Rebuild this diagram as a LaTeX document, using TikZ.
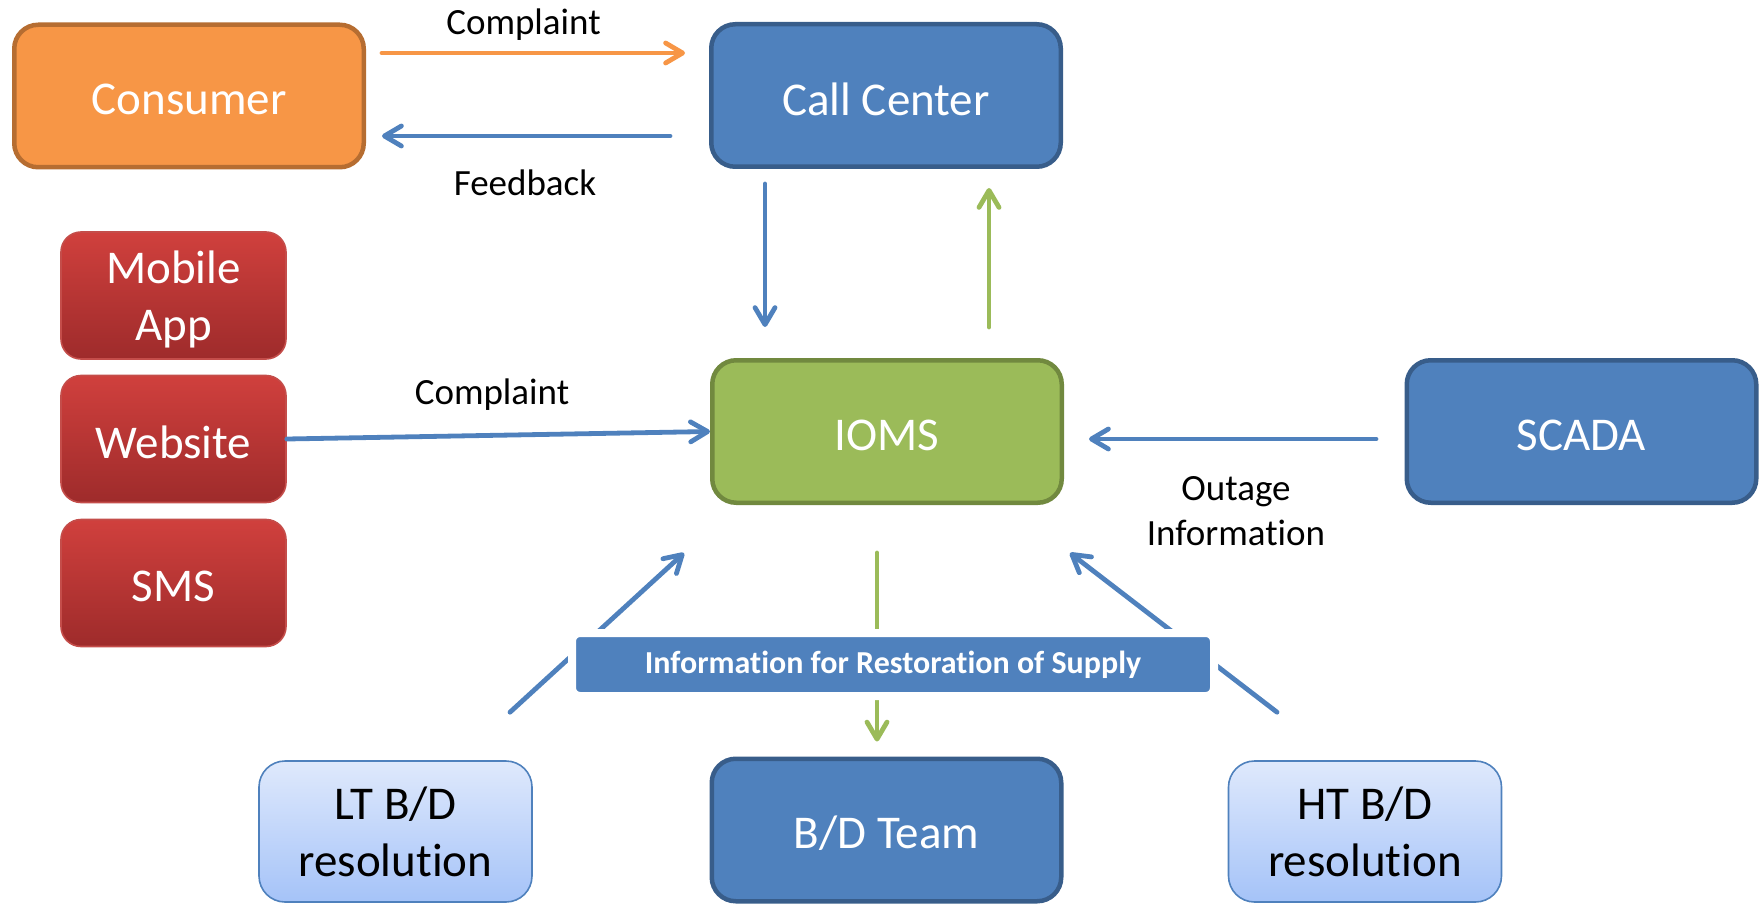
\documentclass[tikz,border=0pt]{standalone}
\usepackage{fontspec}
\setmainfont{Carlito}[Ligatures=NoCommon]
\usetikzlibrary{arrows.meta,calc}
\definecolor{cblue}{HTML}{4F81BD}
\definecolor{cbluedark}{HTML}{385D8A}
\definecolor{cgreen}{HTML}{9BBB59}
\definecolor{cgreendark}{HTML}{71893F}
\definecolor{corange}{HTML}{F79646}
\definecolor{corangedark}{HTML}{B66D31}
\definecolor{credtop}{HTML}{D0403D}
\definecolor{credbot}{HTML}{9E2B2B}
\definecolor{credline}{HTML}{C44D4A}
\definecolor{cltop}{HTML}{DFE9FC}
\definecolor{clbot}{HTML}{A5C3F8}
\newcommand{\lowtxt}[1]{\raisebox{-1.75pt}[\height][\depth]{#1}}
\begin{document}
\begin{tikzpicture}[x=0.5pt, y=-0.5pt, line join=round, line cap=round,
  box/.style={rectangle, rounded corners=12pt, line width=2.25pt, minimum width=174.75pt, minimum height=71.25pt, inner sep=0pt, text=white, align=center, font=\fontsize{23.5}{28.5}\selectfont},
  redbox/.style={box, rounded corners=10pt, line width=0.8pt, minimum width=112.5pt, minimum height=63.5pt, top color=credtop, bottom color=credbot, draw=credline},
  ltbox/.style={box, rounded corners=13pt, line width=0.8pt, minimum width=136.5pt, minimum height=70.5pt, top color=cltop, bottom color=clbot, draw=cblue, text=black},
  banner/.style={rectangle, rounded corners=4pt, fill=cblue, draw=white, line width=4pt, minimum width=321pt, minimum height=31.5pt, inner sep=0pt, text=white, font=\bfseries\fontsize{16}{19}\selectfont},
  lbl/.style={inner sep=0pt, align=center, font=\fontsize{18.5}{22.5}\selectfont},
  arr/.style={line width=2.4pt, -{Straight Barb[length=8.5pt,width=10pt,round]}}]
\useasboundingbox (0,0) rectangle (1762,904);
\node[box, fill=corange, draw=corangedark] (consumer) at (189,96) {\lowtxt{Consumer}};
\node[box, fill=cblue, draw=cbluedark] (callcenter) at (886,95.5) {\lowtxt{Call Center}};
\node[redbox] (mobile) at (173.5,295.5) {\lowtxt{Mobile}\\\lowtxt{App}};
\node[redbox] (website) at (173.5,439) {\lowtxt{Website}};
\node[redbox] (sms) at (173.5,583) {\lowtxt{SMS}};
\node[box, fill=cgreen, draw=cgreendark] (ioms) at (887,431.5) {\lowtxt{IOMS}};
\node[box, fill=cblue, draw=cbluedark] (scada) at (1581.5,431.5) {\lowtxt{SCADA}};
\node[box, fill=cblue, draw=cbluedark] (bdteam) at (886.5,830) {\lowtxt{B/D Team}};
\node[ltbox] (ltbd) at (395.5,831.5) {LT B/D\\resolution};
\node[ltbox] (htbd) at (1365,831.5) {HT B/D\\resolution};

\draw[arr, corange] ($(consumer.east)+(16,-43)$) -- ($(callcenter.west)+(-24,-42.5)$);
\draw[arr, cblue] ($(callcenter.west)+(-39,40.5)$) -- ($(consumer.east)+(16,40)$);
\draw[arr, cblue] (website.east) -- (ioms.west);
\draw[arr, cblue] ($(callcenter.south)+(-121,15)$) -- ($(ioms.north)+(-122,-31)$);
\draw[arr, cgreen] ($(ioms.north)+(102,-31)$) -- ($(callcenter.south)+(103,19)$);
\draw[arr, cblue] ($(scada.west)+(-28.5,7.5)$) -- ($(ioms.east)+(25,7.5)$);
\draw[arr, cblue] ($(ltbd.north)+(114.5,-48)$) -- ($(ioms.south)+(-203,48)$);
\draw[arr, cblue] ($(htbd.north)+(-88,-48)$) -- ($(ioms.south)+(183,48)$);
\draw[arr, cgreen] ($(ioms.south)+(-10,48)$) -- ($(bdteam.north)+(-9.5,-15)$);
\node[banner] (restore) at (893,664.5) {Information for Restoration of Supply};

\node[lbl, anchor=base] (lblcomplaint) at (523.5,35) {Complaint};
\node[lbl, anchor=base] (lblfeedback) at (525,196) {Feedback};
\node[lbl, anchor=base] (lblwebcomplaint) at (492,404) {Complaint};
\node[lbl] (lbloutage) at (1236,511) {Outage\\Information};
\end{tikzpicture}
\end{document}
